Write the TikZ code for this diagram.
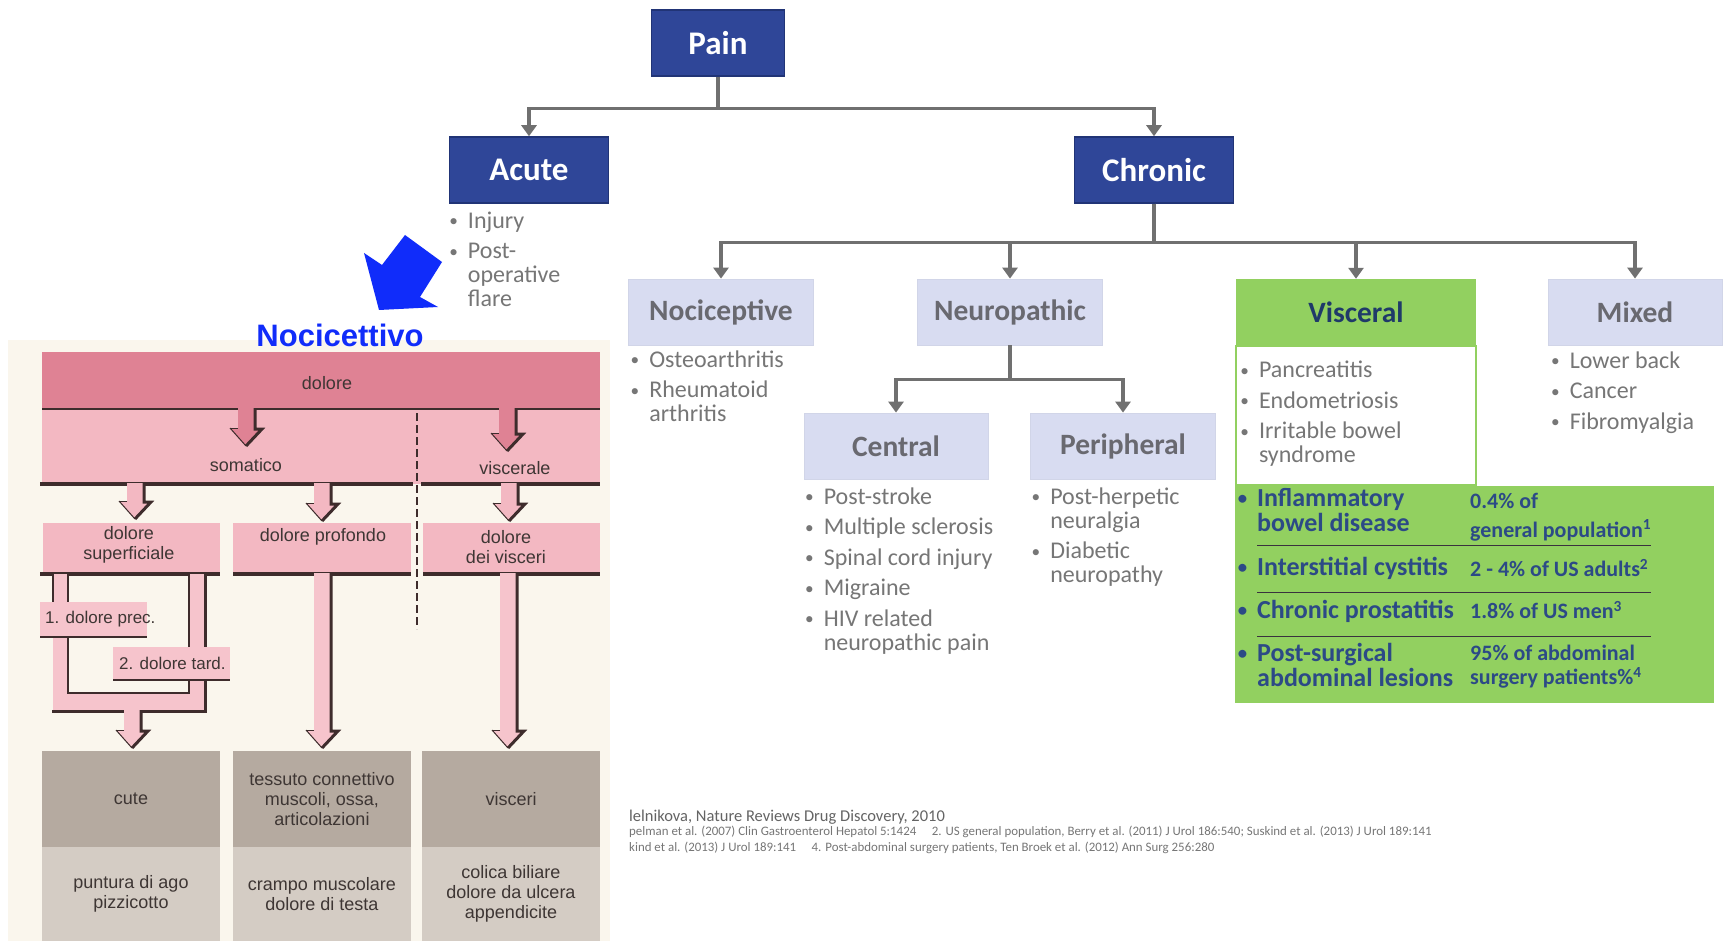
\documentclass[tikz,border=0pt]{standalone}
\usepackage{fontspec}
\setmainfont{Carlito}
\newfontfamily\helv{Liberation Sans}
\usepackage{graphicx}
\usepackage{tikz}
\usetikzlibrary{arrows.meta,positioning,calc}
\definecolor{painblue}{RGB}{47,70,152}
\definecolor{painedge}{RGB}{33,52,118}
\definecolor{lavender}{RGB}{216,220,241}
\definecolor{boxgray}{RGB}{105,105,112}
\definecolor{listgray}{RGB}{118,118,118}
\definecolor{linegray}{RGB}{112,112,112}
\definecolor{vgreen}{RGB}{146,208,96}
\definecolor{vnavy}{RGB}{31,58,105}
\definecolor{tabnavy}{RGB}{44,74,134}
\definecolor{nociblue}{RGB}{16,44,250}
\definecolor{cream}{RGB}{250,246,237}
\definecolor{dpink}{RGB}{223,130,148}
\definecolor{lpink}{RGB}{243,184,194}
\definecolor{apink}{RGB}{246,196,204}
\definecolor{ink}{RGB}{62,44,44}
\definecolor{bookink}{RGB}{62,54,52}
\definecolor{taupe}{RGB}{181,170,160}
\definecolor{lighttaupe}{RGB}{212,204,196}
\newcommand{\bul}{\makebox[0pt][r]{\raisebox{1.5pt}{\scalebox{0.72}{\textbullet}}\hspace{10pt}}}
% block arrow of the textbook figure: [fill] x, top, tip
\newcommand{\pinkarrow}[4][apink]{%
  \fill[#1] ({#2-8},#3) -- ({#2-8},{#4-18}) -- ({#2-16},{#4-18}) -- (#2,#4) -- ({#2+16},{#4-18}) -- ({#2+8},{#4-18}) -- ({#2+8},#3) -- cycle;
  \draw[ink,line width=1pt] ({#2-16},{#4-18}) -- (#2,#4);
  \draw[ink,line width=1pt] ({#2-8},{#4-18}) -- ({#2-16},{#4-18});
  \draw[ink,line width=3pt] ({#2+9},#3) -- ({#2+9},{#4-17}) -- ({#2+16},{#4-17}) -- (#2,#4);}
\begin{document}
\begin{tikzpicture}[x=1pt,y=-1pt,
  darkbox/.style={draw=painedge,line width=1.5pt,fill=painblue,text=white,font=\fontsize{33}{36}\selectfont\bfseries,minimum width=159pt,minimum height=66pt,inner sep=0pt},
  lightbox/.style={draw=lavender!92!gray,line width=.8pt,fill=lavender,text=boxgray,font=\fontsize{29.5}{32}\selectfont\bfseries,minimum width=185pt,minimum height=66pt,inner sep=0pt},
  greenbox/.style={fill=vgreen,text=vnavy,font=\fontsize{29.5}{32}\selectfont\bfseries,minimum width=240pt,minimum height=66pt,inner sep=0pt},
  itemlist/.style={align=left,inner sep=0pt,text=listgray,font=\fontsize{24}{24}\selectfont},
  tabl/.style={anchor=north west,align=left,inner sep=0pt,text=tabnavy,font=\fontsize{26}{25}\selectfont\bfseries},
  tabr/.style={anchor=north west,align=left,inner sep=0pt,text=tabnavy,font=\fontsize{22}{24}\selectfont\bfseries},
  conn/.style={draw=linegray,line width=3.5pt,-{Triangle[width=15pt,length=11pt]}},
  bookt/.style={text=bookink,font=\helv\fontsize{18}{20}\selectfont,align=center,inner sep=0pt},
  tbox/.style={bookt,fill=taupe,minimum width=178pt,minimum height=96pt},
  lbox/.style={bookt,fill=lighttaupe,minimum width=178pt,minimum height=94pt},
  reftext/.style={anchor=west,inner sep=0pt,text=listgray}]
  \useasboundingbox (0,0) rectangle (1724,941);
  \fill[white] (0,0) rectangle (1724,941);

  % classification tree
  \node[darkbox,minimum width=133pt] (pain) at (718,43) {Pain};
  \node[darkbox] (acute) at (529,170) {Acute};
  \node[darkbox] (chronic) at (1154,170) {Chronic};
  \node[lightbox] (noci) at (721,312) {Nociceptive};
  \node[lightbox] (neuro) at (1010,312) {Neuropathic};
  \node[greenbox] (visc) at (1356,312) {Visceral};
  \node[lightbox,minimum width=174pt] (mixed) at (1635,312) {Mixed};
  \node[lightbox,minimum width=184pt] (central) at (896,446) {Central};
  \node[lightbox] (periph) at (1123,446) {Peripheral};
  \node[draw=vgreen,line width=1.5pt,fill=white,minimum width=240pt,minimum height=139pt,inner sep=0pt,below=0pt of visc] (vbody) {};
  \node[fill=vgreen,minimum width=479pt,minimum height=217pt,inner sep=0pt,anchor=north west] (gtab) at (vbody.south west) {};

  \foreach \n in {acute,chronic}{\draw[conn] (pain.south) -- ++(0,32) -| (\n.north);}
  \foreach \n in {noci,neuro,visc,mixed}{\draw[conn] (chronic.south) -- ++(0,39) -| (\n.north);}
  \foreach \n in {central,periph}{\draw[conn] (neuro.south) -- ++(0,34) -| (\n.north);}

  \node[itemlist,below right=8pt and 19pt of acute.south west] (acutel) {\bul Injury\\[6.5pt]\bul Post-\\operative\\flare};
  \node[itemlist,below right=5pt and 21pt of noci.south west] (nocil) {\bul Osteoarthritis\\[6.5pt]\bul Rheumatoid\\arthritis};
  \node[itemlist,below right=8pt and 20pt of central.south west] (centrall) {\bul Post-stroke\\[6.5pt]\bul Multiple sclerosis\\[6.5pt]\bul Spinal cord injury\\[6.5pt]\bul Migraine\\[6.5pt]\bul HIV related\\neuropathic pain};
  \node[itemlist,below right=8pt and 20pt of periph.south west] (periphl) {\bul Post-herpetic\\neuralgia\\[6.5pt]\bul Diabetic\\neuropathy};
  \node[itemlist,below right=16pt and 23pt of visc.south west] (viscl) {\bul Pancreatitis\\[6.5pt]\bul Endometriosis\\[6.5pt]\bul Irritable bowel\\syndrome};
  \node[itemlist,below right=6pt and 22pt of mixed.south west] (mixedl) {\bul Lower back\\[6.5pt]\bul Cancer\\[6.5pt]\bul Fibromyalgia};

  % visceral table
  \node[tabl] (ibd) at (1257,488) {\bul Inflammatory\\bowel disease};
  \node[tabr] (ibdp) at (1470,493) {0.4\% of\\[5pt]general population\textsuperscript{1}};
  \node[tabl] (ic) at (1257,557) {\bul Interstitial cystitis};
  \node[tabr] (icp) at (1470,559) {2 - 4\% of US adults\textsuperscript{2}};
  \node[tabl] (cp) at (1257,600) {\bul Chronic prostatitis};
  \node[tabr] (cpp) at (1470,601) {1.8\% of US men\textsuperscript{3}};
  \node[tabl] (ps) at (1257,643) {\bul Post-surgical\\abdominal lesions};
  \node[tabr] (psp) at (1470,645) {95\% of abdominal\\surgery patients\%\textsuperscript{4}};
  \foreach \y in {545,592,636}{\draw[ink!80!tabnavy,line width=1pt] (1257,\y) -- (1651,\y);}

  % references
  \node[reftext,font=\fontsize{16.5}{18}\selectfont,text=listgray!85!black] (ref1) at (629,817) {lelnikova, Nature Reviews Drug Discovery, 2010};
  \node[reftext,font=\fontsize{12.9}{14}\selectfont] (ref2) at (629,832) {pelman et al. (2007) Clin Gastroenterol Hepatol 5:1424\hspace{1.2em}2. US general population, Berry et al. (2011) J Urol 186:540; Suskind et al. (2013) J Urol 189:141};
  \node[reftext,font=\fontsize{12.9}{14}\selectfont] (ref3) at (629,848) {kind et al. (2013) J Urol 189:141\hspace{1.2em}4. Post-abdominal surgery patients, Ten Broek et al. (2012) Ann Surg 256:280};

  % textbook figure
  \fill[cream] (8,340) rectangle (610,941);
  \fill[dpink] (42,352) rectangle (600,409);
  \fill[lpink] (42,409) rectangle (600,484);
  \fill[lpink] (43,523) rectangle (220,574);
  \fill[lpink] (233,523) rectangle (411,574);
  \fill[lpink] (423,523) rectangle (600,574);
  \draw[ink,line width=2pt] (42,409) -- (600,409);
  \draw[ink,line width=3.5pt] (40,484) -- (413,484) (421,484) -- (600,484);
  \draw[ink,line width=3.5pt] (40,574) -- (220,574) (233,574) -- (411,574) (423,574) -- (600,574);
  \draw[ink,line width=1.5pt,dash pattern=on 8pt off 4pt] (417,413) -- (417,629);
  \node[bookt] (dol) at (327,383) {dolore};
  \node[bookt] (som) at (246,465) {somatico};
  \node[bookt] (visl) at (515,468) {viscerale};
  \node[bookt] (sup) at (129,545) {dolore\\superficiale};
  \node[bookt] (prof) at (323,537) {dolore profondo};
  \node[bookt] (dvis) at (506,547) {dolore\\dei visceri};
  \pinkarrow[dpink]{246}{408}{446}
  \pinkarrow[dpink]{507}{408}{451}
  \pinkarrow[lpink]{135}{483}{519}
  \pinkarrow[lpink]{322}{483}{521}
  \pinkarrow[lpink]{509}{483}{521}
  \pinkarrow{322}{573}{748}
  \pinkarrow{508}{573}{748}
  % fast and slow pain loop
  \fill[apink] (53,574) rectangle (68,710);
  \fill[apink] (189,574) rectangle (204,710);
  \fill[apink] (53,693) rectangle (204,710);
  \draw[ink,line width=1.5pt] (68,574) -- (68,693) -- (189,693) -- (189,574);
  \draw[ink,line width=3pt] (205,574) -- (205,711) -- (52,711);
  \draw[ink,line width=1.5pt] (53,574) -- (53,602);
  \fill[apink] (40,602) rectangle (147,637);
  \fill[apink] (113,647) rectangle (230,680);
  \draw[ink,line width=2pt] (40,637) -- (147,637) (113,680) -- (230,680);
  \node[bookt,anchor=west,font=\helv\fontsize{17}{19}\selectfont] (prec) at (45,619) {1. dolore prec.};
  \node[bookt,anchor=west,font=\helv\fontsize{17}{19}\selectfont] (tard) at (119,663) {2. dolore tard.};
  \pinkarrow{132}{710}{748}
  \node[tbox] (cute) at (131,799) {cute};
  \node[tbox] (tess) at (322,799) {tessuto connettivo\\muscoli, ossa,\\articolazioni};
  \node[tbox] (visc2) at (511,799) {visceri};
  \node[lbox] (ago) at (131,894) {puntura di ago\\pizzicotto};
  \node[lbox] (crampo) at (322,894) {crampo muscolare\\dolore di testa};
  \node[lbox] (colica) at (511,894) {colica biliare\\dolore da ulcera\\appendicite};

  % blue pointer
  \fill[nociblue] (379,310) -- (364,253) -- (382,265) -- (405,235) -- (442,262) -- (420,297) -- (438,307) -- cycle;
  \node[text=nociblue,font=\helv\bfseries\fontsize{31}{34}\selectfont,inner sep=0pt] (nocit) at (340,335) {Nocicettivo};
\end{tikzpicture}
\end{document}
